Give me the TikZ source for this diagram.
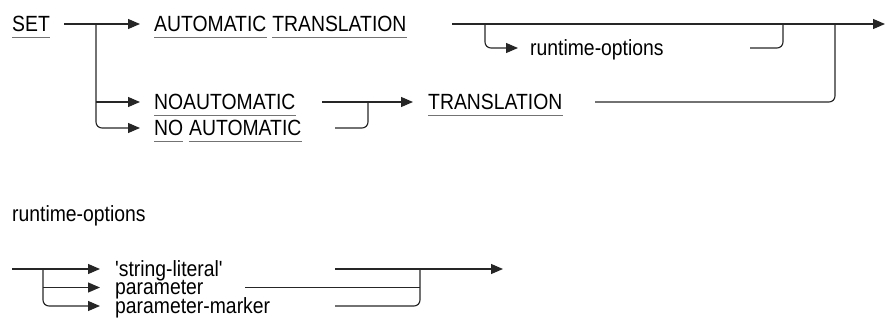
\documentclass[tikz,border=0pt]{standalone}
\usepackage{fontspec}
\setmainfont{Liberation Sans}[FakeStretch=0.88, Ligatures=TeXOff]
\usetikzlibrary{arrows.meta}
\begin{document}
\begin{tikzpicture}[x=1pt,y=-1pt,
  kw/.style={inner sep=0pt, anchor=base west, text height=15pt, text depth=3pt, font=\fontsize{22}{24}\selectfont},
  ln/.style={draw=black!85, line width=1.15pt, rounded corners=6pt},
  arr/.style={ln, -{Triangle[length=12pt,width=10pt]}},
  ulst/.style={draw=black!55, line width=1pt}]
\useasboundingbox (0,0) rectangle (886,332);

% ---------- main diagram ----------
\node[kw] (set) at (12,31) {SET};
\node[kw] (auto) at (154,31) {AUTOMATIC};
\node[kw, xshift=5.5pt] (trans1) at (auto.base east) {TRANSLATION};
\node[kw] (rto1) at (530,55) {runtime-options};

\node[kw] (noauto) at (154,109) {NOAUTOMATIC};
\node[kw] (trans2) at (428,109) {TRANSLATION};

\node[kw] (no) at (154,135) {NO};
\node[kw, xshift=5.5pt] (auto2) at (no.base east) {AUTOMATIC};

% underlines
\foreach \n in {set,auto,trans1,noauto,trans2,no,auto2}
  \draw[ulst] ([yshift=-6.5pt]\n.base west) -- ([yshift=-6.5pt]\n.base east);

% junction coordinates
\coordinate (j1) at (96,24);
\coordinate (j2) at (485,24);
\coordinate (j3) at (783,24);
\coordinate (j4) at (835,24);
\coordinate (j5) at (368,102);
\coordinate (endA) at (885,24);

% connectors
\draw[arr] ([xshift=14pt,yshift=7pt]set.base east) -- ([xshift=-14pt,yshift=7pt]auto.base west);
\draw[arr] (j1) |- ([xshift=-14pt,yshift=7pt]no.base west);
\draw[arr] (96,102) -- ([xshift=-14pt,yshift=7pt]noauto.base west);

\draw[arr] (452,24) -- (endA);
\draw[arr] (j2) |- ([xshift=-12pt,yshift=7pt]rto1.base west);
\draw[ln] (750,48) -| (j3);
\draw[ln] (595,102) -| (j4);

\draw[arr] (322,102) -- ([xshift=-15pt,yshift=7pt]trans2.base west);
\draw[ln] (335,128) -| (j5);

% ---------- runtime-options ----------
\node[kw] (rtlabel) at (12,221) {runtime-options};

\node[kw, text depth=2pt] (sl) at (115,276) {\symbol{39}string-literal\symbol{39}};
\node[kw, text height=13pt, text depth=2pt] (par) at (115,294.5) {parameter};
\node[kw, text height=13pt] (pm) at (115,313) {parameter-marker};

\coordinate (b0) at (12,269);
\coordinate (b1) at (43,269);
\coordinate (b2) at (420,269);
\coordinate (bend) at (503,269);

\draw[arr] (b0) -- ([xshift=-15pt,yshift=7pt]sl.base west);
\draw[arr] (b1) |- ([xshift=-15pt,yshift=7pt]pm.base west);
\draw[arr] (43,287.5) -- ([xshift=-15pt,yshift=7pt]par.base west);

\draw[arr] (335,269) -- (bend);
\draw[ln] (245,287.5) -- (420,287.5);
\draw[ln] (335,306) -| (b2);
\end{tikzpicture}
\end{document}
